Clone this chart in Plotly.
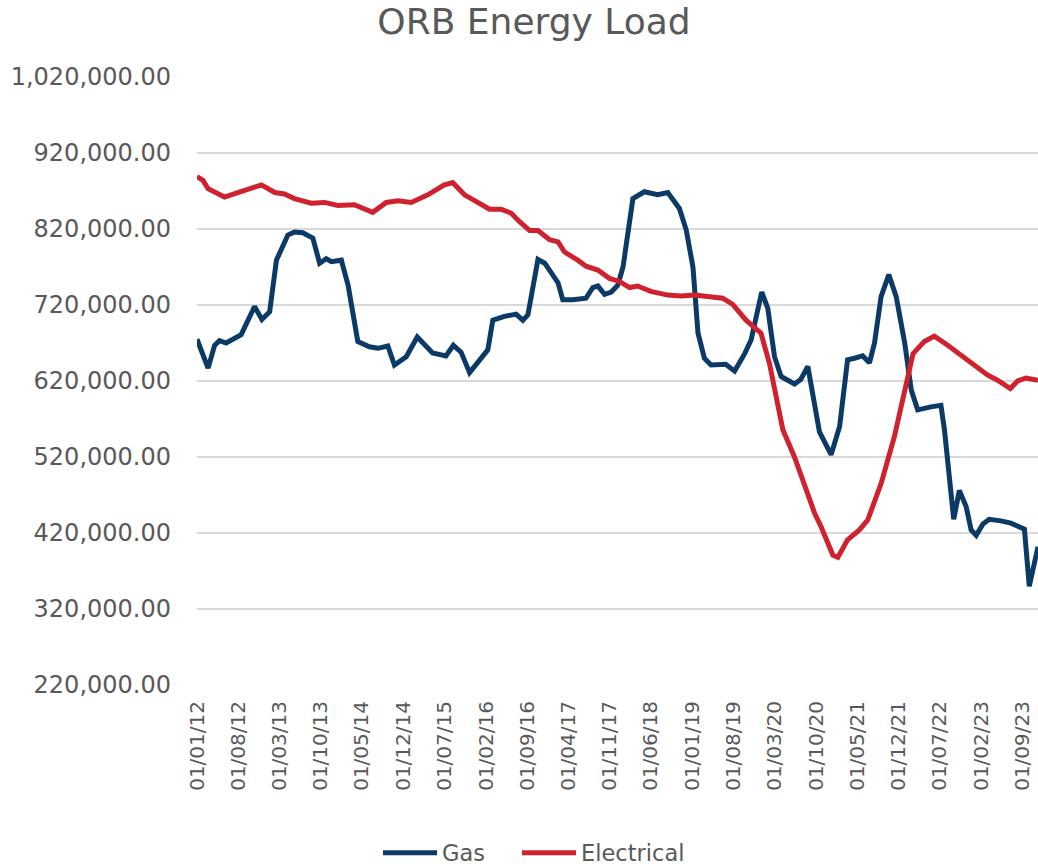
import plotly.graph_objects as go

# ---- data ----
gas_dates = [
    "2012-01-01", "2012-02-27", "2012-04-01", "2012-04-26", "2012-05-30", "2012-08-16",
    "2012-10-24", "2012-12-01", "2013-01-10", "2013-02-14", "2013-04-14", "2013-05-18",
    "2013-06-30", "2013-08-21", "2013-09-25", "2013-10-29", "2013-11-24", "2014-01-15",
    "2014-02-19", "2014-04-10", "2014-06-09", "2014-07-22", "2014-09-12", "2014-10-16",
    "2014-12-16", "2015-02-11", "2015-05-01", "2015-07-09", "2015-08-16", "2015-09-25",
    "2015-11-08", "2015-12-20", "2016-02-10", "2016-03-07", "2016-05-06", "2016-07-05",
    "2016-08-09", "2016-09-04", "2016-10-26", "2016-11-30", "2017-02-07", "2017-03-03",
    "2017-04-24", "2017-07-01", "2017-08-05", "2017-08-31", "2017-10-05", "2017-11-08",
    "2017-12-12", "2018-01-08", "2018-02-28", "2018-04-28", "2018-07-06", "2018-08-27",
    "2018-10-26", "2018-11-30", "2019-01-04", "2019-01-30", "2019-03-04", "2019-04-07",
    "2019-06-22", "2019-08-07", "2019-09-28", "2019-10-31", "2019-12-25", "2020-01-25",
    "2020-02-29", "2020-04-03", "2020-06-11", "2020-07-13", "2020-08-19", "2020-10-18",
    "2020-12-17", "2021-01-30", "2021-03-12", "2021-04-16", "2021-05-29", "2021-07-03",
    "2021-07-29", "2021-09-01", "2021-10-11", "2021-11-18", "2022-01-01", "2022-02-04",
    "2022-03-09", "2022-05-16", "2022-07-07", "2022-07-25", "2022-08-20", "2022-09-11",
    "2022-10-10", "2022-11-14", "2022-12-10", "2023-01-05", "2023-02-09", "2023-03-13",
    "2023-05-12", "2023-07-03", "2023-09-11", "2023-10-06", "2023-11-20",
]
gas_values = [
    675000, 637000, 667000, 673000, 670000, 681000,
    718000, 701000, 711000, 779000, 812000, 816000,
    815000, 808000, 775000, 781000, 777000, 779000,
    746000, 672000, 665000, 663000, 666000, 641000,
    652000, 678000, 657000, 653000, 667000, 658000,
    631000, 645000, 661000, 700000, 705000, 708000,
    700000, 707000, 780000, 775000, 749000, 727000,
    727000, 729000, 743000, 745000, 734000, 737000,
    746000, 770000, 860000, 869000, 865000, 868000,
    847000, 819000, 770000, 683000, 650000, 641000,
    642000, 633000, 656000, 674000, 737000, 716000,
    652000, 626000, 616000, 622000, 639000, 553000,
    523000, 560000, 648000, 650000, 653000, 644000,
    670000, 731000, 760000, 731000, 670000, 608000,
    582000, 586000, 588000, 556000, 490000, 438000,
    476000, 455000, 424000, 417000, 432000, 438000,
    436000, 433000, 425000, 350000, 402000,
]

elec_dates = [
    "2012-01-01", "2012-02-01", "2012-02-27", "2012-04-01", "2012-05-22", "2012-07-30",
    "2012-09-20", "2012-11-28", "2013-02-06", "2013-03-27", "2013-05-18", "2013-08-12",
    "2013-10-20", "2013-12-28", "2014-03-23", "2014-06-26", "2014-09-04", "2014-11-03",
    "2015-01-11", "2015-04-06", "2015-07-01", "2015-08-13", "2015-10-13", "2015-12-20",
    "2016-02-19", "2016-04-18", "2016-06-09", "2016-07-22", "2016-09-13", "2016-10-26",
    "2016-12-25", "2017-02-07", "2017-03-11", "2017-05-19", "2017-07-01", "2017-08-31",
    "2017-10-30", "2017-12-21", "2018-02-11", "2018-03-24", "2018-06-01", "2018-08-27",
    "2018-11-04", "2019-01-12", "2019-03-20", "2019-06-06", "2019-07-27", "2019-10-05",
    "2019-12-21", "2020-02-03", "2020-04-12", "2020-06-11", "2020-09-23", "2020-10-27",
    "2020-12-26", "2021-01-21", "2021-03-12", "2021-05-12", "2021-06-24", "2021-09-01",
    "2021-11-09", "2022-01-01", "2022-02-13", "2022-04-12", "2022-06-03", "2022-08-11",
    "2022-10-19", "2022-12-27", "2023-03-04", "2023-04-25", "2023-06-30", "2023-08-07",
    "2023-09-19", "2023-11-20",
]
elec_values = [
    889000, 884000, 873000, 869000, 862000, 868000,
    872000, 878000, 868000, 866000, 860000, 854000,
    855000, 851000, 852000, 842000, 855000, 857000,
    855000, 865000, 878000, 881000, 865000, 855000,
    846000, 846000, 841000, 830000, 818000, 818000,
    806000, 803000, 790000, 779000, 771000, 766000,
    755000, 751000, 743000, 745000, 738000, 733000,
    732000, 733000, 731000, 729000, 721000, 700000,
    683000, 643000, 556000, 520000, 446000, 428000,
    391000, 388000, 411000, 424000, 437000, 485000,
    547000, 608000, 656000, 672000, 679000, 667000,
    654000, 641000, 628000, 621000, 610000, 620000,
    624000, 621000,
]

tick_dates = [
    "2012-01-01", "2012-08-01", "2013-03-01", "2013-10-01", "2014-05-01", "2014-12-01",
    "2015-07-01", "2016-02-01", "2016-09-01", "2017-04-01", "2017-11-01", "2018-06-01",
    "2019-01-01", "2019-08-01", "2020-03-01", "2020-10-01", "2021-05-01", "2021-12-01",
    "2022-07-01", "2023-02-01", "2023-09-01",
]
tick_labels = [
    "01/01/12", "01/08/12", "01/03/13", "01/10/13", "01/05/14", "01/12/14",
    "01/07/15", "01/02/16", "01/09/16", "01/04/17", "01/11/17", "01/06/18",
    "01/01/19", "01/08/19", "01/03/20", "01/10/20", "01/05/21", "01/12/21",
    "01/07/22", "01/02/23", "01/09/23",
]
y_ticks = [220000, 320000, 420000, 520000, 620000, 720000, 820000, 920000, 1020000]

GAS_COLOR = "#0B3A66"
ELEC_COLOR = "#D0222E"
TEXT_COLOR = "#595959"
FONT = "DejaVu Sans, Verdana, sans-serif"
W, H = 1038, 867

fig = go.Figure()
fig.add_trace(go.Scatter(x=gas_dates, y=gas_values, mode="lines", name="Gas",
                         line=dict(color=GAS_COLOR, width=5), legend="legend"))
fig.add_trace(go.Scatter(x=elec_dates, y=elec_values, mode="lines", name="Electrical",
                         line=dict(color=ELEC_COLOR, width=5), legend="legend2"))

legend_common = dict(orientation="h", xref="container", yref="container",
                     xanchor="left", y=1 - 853 / H, yanchor="middle",
                     font=dict(family=FONT, size=22.5, color=TEXT_COLOR),
                     bgcolor="rgba(0,0,0,0)", itemwidth=54)

fig.update_layout(
    width=W, height=H,
    margin=dict(l=197, r=0, t=77, b=182, autoexpand=False),
    paper_bgcolor="white", plot_bgcolor="white",
    font=dict(family=FONT, color=TEXT_COLOR),
    title=dict(text="ORB Energy Load", x=534 / W, xanchor="center",
               y=1 - 21 / H, yanchor="middle", yref="container",
               font=dict(family=FONT, size=36, color=TEXT_COLOR)),
    showlegend=True,
    legend=dict(x=378 / W, **legend_common),
    legend2=dict(x=517 / W, **legend_common),
    xaxis=dict(type="date", range=["2012-01-01", "2023-11-20"],
               tickmode="array", tickvals=tick_dates, ticktext=tick_labels,
               tickangle=-90, tickfont=dict(family=FONT, size=20, color=TEXT_COLOR),
               showgrid=False, zeroline=False, showline=False, ticks="",
               ticklabelstandoff=11),
    yaxis=dict(range=[220000, 1020000], tickmode="array", tickvals=y_ticks,
               tickformat=",.2f", tickfont=dict(family=FONT, size=24, color=TEXT_COLOR),
               showgrid=True, gridcolor="#D9D9D9", gridwidth=2,
               zeroline=False, showline=False, ticks="", ticklabelstandoff=25),
)

fig.write_html(
    "out.html",
    config={"displayModeBar": False},
    post_script="document.body.style.margin='0px';document.body.style.overflow='hidden';",
)
